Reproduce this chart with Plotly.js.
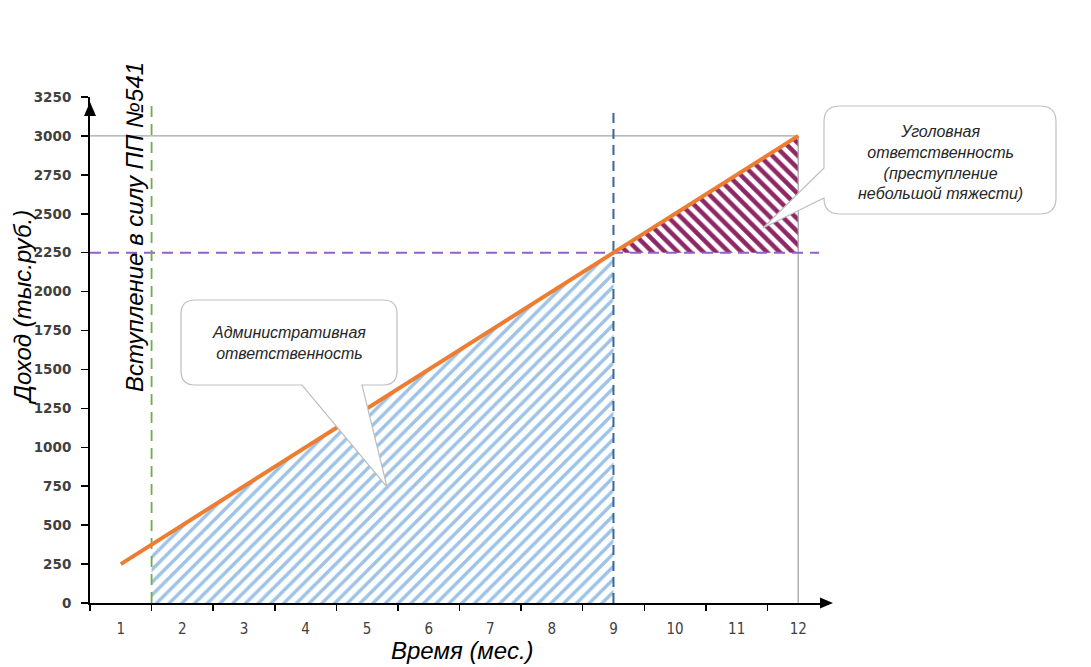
<!DOCTYPE html>
<html>
<head>
<meta charset="utf-8">
<script src="https://cdn.plot.ly/plotly-3.0.1.min.js"></script>
<style>html,body{margin:0;padding:0;background:#fff;}#chart{width:1091px;height:667px;}</style>
</head>
<body>
<div id="chart"></div>
<script>
// ---- data ----
const months = [1, 2, 3, 4, 5, 6, 7, 8, 9, 10, 11, 12];
const monthLabels = ['1', '2', '3', '4', '5', '6', '7', '8', '9', '10', '11', '12'];
const income = [250, 500, 750, 1000, 1250, 1500, 1750, 2000, 2250, 2500, 2750, 3000];
const monthBounds = [0.5, 1.5, 2.5, 3.5, 4.5, 5.5, 6.5, 7.5, 8.5, 9.5, 10.5, 11.5];
const incomeTicks = [0, 250, 500, 750, 1000, 1250, 1500, 1750, 2000, 2250, 2500, 2750, 3000, 3250];

const adminX = [1.5, 1.5, 2, 3, 4, 5, 6, 7, 8, 9, 9];
const adminY = [0, 375, 500, 750, 1000, 1250, 1500, 1750, 2000, 2250, 0];
const crimX = [9, 10, 11, 12, 12];
const crimY = [2250, 2500, 2750, 3000, 2250];

const lawLineX = [1.5, 1.5];   const lawLineY = [0, 3210];
const adminEndX = [9, 9];      const adminEndY = [0, 3180];
const thresholdX = [0.5, 12.34]; const thresholdY = [2250, 2250];
const maxLineX = [0.5, 12];    const maxLineY = [3000, 3000];
const endLineX = [12, 12];     const endLineY = [0, 3000];

// ---- layout helpers (pixel -> paper) ----
const L = 90, R = 829, T = 97, B = 603;
const px = v => (v - L) / (R - L);
const py = v => (B - v) / (B - T);
const P = (x, y) => px(x).toFixed(5) + ',' + py(y).toFixed(5);

function calloutBottom(l, t, r, b, rad, tail) {
  return 'M' + P(l + rad, t) + ' L' + P(r - rad, t) + ' Q' + P(r, t) + ' ' + P(r, t + rad) +
    ' L' + P(r, b - rad) + ' Q' + P(r, b) + ' ' + P(r - rad, b) +
    ' L' + P(tail[0][0], tail[0][1]) + ' L' + P(tail[1][0], tail[1][1]) + ' L' + P(tail[2][0], tail[2][1]) +
    ' L' + P(l + rad, b) + ' Q' + P(l, b) + ' ' + P(l, b - rad) +
    ' L' + P(l, t + rad) + ' Q' + P(l, t) + ' ' + P(l + rad, t) + ' Z';
}
function calloutLeft(l, t, r, b, rad, tail) {
  return 'M' + P(l + rad, t) + ' L' + P(r - rad, t) + ' Q' + P(r, t) + ' ' + P(r, t + rad) +
    ' L' + P(r, b - rad) + ' Q' + P(r, b) + ' ' + P(r - rad, b) +
    ' L' + P(l + rad, b) + ' Q' + P(l, b) + ' ' + P(l, b - rad) +
    ' L' + P(tail[0][0], tail[0][1]) + ' L' + P(tail[1][0], tail[1][1]) + ' L' + P(tail[2][0], tail[2][1]) +
    ' L' + P(l, t + rad) + ' Q' + P(l, t) + ' ' + P(l + rad, t) + ' Z';
}

const traces = [
  { x: adminX, y: adminY, type: 'scatter', mode: 'lines', fill: 'toself',
    line: { width: 0, color: 'rgba(0,0,0,0)' }, fillcolor: 'rgba(0,0,0,0)',
    fillpattern: { shape: '/', fgcolor: '#9DC3E6', bgcolor: 'rgba(255,255,255,0)', size: 9, solidity: 0.38 },
    hoverinfo: 'skip', showlegend: false },
  { x: crimX, y: crimY, type: 'scatter', mode: 'lines', fill: 'toself',
    line: { width: 0, color: 'rgba(0,0,0,0)' }, fillcolor: 'rgba(0,0,0,0)',
    fillpattern: { shape: '\\', fgcolor: '#8E2765', bgcolor: 'rgba(255,255,255,0)', size: 9, solidity: 0.5 },
    hoverinfo: 'skip', showlegend: false },
  { x: maxLineX, y: maxLineY, type: 'scatter', mode: 'lines', line: { color: '#A6A6A6', width: 1.3 }, showlegend: false, cliponaxis: false },
  { x: endLineX, y: endLineY, type: 'scatter', mode: 'lines', line: { color: '#A6A6A6', width: 1.3 }, showlegend: false, cliponaxis: false },
  { x: thresholdX, y: thresholdY, type: 'scatter', mode: 'lines', line: { color: '#9161C9', width: 2, dash: '11px,7px' }, showlegend: false, cliponaxis: false },
  { x: lawLineX, y: lawLineY, type: 'scatter', mode: 'lines', line: { color: '#70AD47', width: 1.8, dash: '11px,7px' }, showlegend: false, cliponaxis: false },
  { x: adminEndX, y: adminEndY, type: 'scatter', mode: 'lines', line: { color: '#3A6896', width: 2, dash: '10px,6px' }, showlegend: false, cliponaxis: false },
  { x: months, y: income, type: 'scatter', mode: 'lines', line: { color: '#ED7D31', width: 4 }, showlegend: false, cliponaxis: false }
];

const italic = { family: 'Liberation Sans, Arial, sans-serif', style: 'italic', color: '#000' };
const boxFont = { family: 'Liberation Sans, Arial, sans-serif', style: 'italic', size: 16, color: '#262626' };

const layout = {
  width: 1091, height: 667,
  margin: { l: L, r: 1091 - R, t: T, b: 667 - B, pad: 0 },
  paper_bgcolor: '#fff', plot_bgcolor: '#fff',
  showlegend: false,
  xaxis: {
    range: [0.5, 12.5], showgrid: false, zeroline: false,
    showline: true, linecolor: '#000', linewidth: 2,
    tickmode: 'array', tickvals: months, ticktext: monthLabels,
    ticks: 'outside', ticklen: 11, tickcolor: 'rgba(0,0,0,0)',
    tickfont: { family: 'Liberation Sans Narrow, DejaVu Sans Condensed, sans-serif', size: 15, color: '#404040' },
    minor: { tickmode: 'array', tickvals: monthBounds, ticks: 'outside', ticklen: 6, tickcolor: '#000', tickwidth: 1.5, showgrid: false }
  },
  yaxis: {
    range: [0, 3250], showgrid: false, zeroline: false,
    showline: true, linecolor: '#000', linewidth: 2,
    tickmode: 'array', tickvals: incomeTicks, ticktext: incomeTicks.map(String),
    ticks: 'outside', ticklen: 7, tickcolor: '#000', tickwidth: 1.5, ticklabelstandoff: 7,
    tickfont: { family: 'DejaVu Sans, sans-serif', size: 13.5, weight: 'bold', color: '#404040' }
  },
  shapes: [
    { type: 'path', xref: 'paper', yref: 'paper', layer: 'above',
      path: 'M' + P(820, 597.5) + ' L' + P(833, 603) + ' L' + P(820, 608.5) + ' Z',
      fillcolor: '#000', line: { width: 0 } },
    { type: 'path', xref: 'paper', yref: 'paper', layer: 'above',
      path: 'M' + P(84, 116) + ' L' + P(90, 102) + ' L' + P(96, 116) + ' Z',
      fillcolor: '#000', line: { width: 0 } },
    { type: 'path', xref: 'paper', yref: 'paper', layer: 'above',
      path: calloutBottom(181, 300, 397, 385, 14, [[362, 385], [387, 487], [302, 385]]),
      fillcolor: '#fff', line: { color: '#BFBFBF', width: 1.2 } },
    { type: 'path', xref: 'paper', yref: 'paper', layer: 'above',
      path: calloutLeft(824, 106, 1056, 214, 16, [[824, 198], [763, 228], [824, 168]]),
      fillcolor: '#fff', line: { color: '#BFBFBF', width: 1.2 } }
  ],
  annotations: [
    { text: 'Доход (тыс.руб.)', xref: 'paper', yref: 'paper', x: px(22), y: py(308), textangle: -90,
      showarrow: false, xanchor: 'center', yanchor: 'middle', font: Object.assign({ size: 24 }, italic) },
    { text: 'Вступление в силу ПП №541', xref: 'paper', yref: 'paper', x: px(135), y: py(227), textangle: -90,
      showarrow: false, xanchor: 'center', yanchor: 'middle', font: Object.assign({ size: 24 }, italic) },
    { text: 'Время (мес.)', xref: 'paper', yref: 'paper', x: px(462), y: py(650),
      showarrow: false, xanchor: 'center', yanchor: 'middle', font: Object.assign({ size: 24 }, italic) },
    { text: 'Административная<br>ответственность', xref: 'paper', yref: 'paper', x: px(289), y: py(343),
      showarrow: false, xanchor: 'center', yanchor: 'middle', align: 'center', font: boxFont },
    { text: 'Уголовная<br>ответственность<br>(преступление<br>небольшой тяжести)', xref: 'paper', yref: 'paper', x: px(940), y: py(162),
      showarrow: false, xanchor: 'center', yanchor: 'middle', align: 'center', font: boxFont }
  ]
};

Plotly.newPlot('chart', traces, layout, { displayModeBar: false, staticPlot: true });
</script>
</body>
</html>
